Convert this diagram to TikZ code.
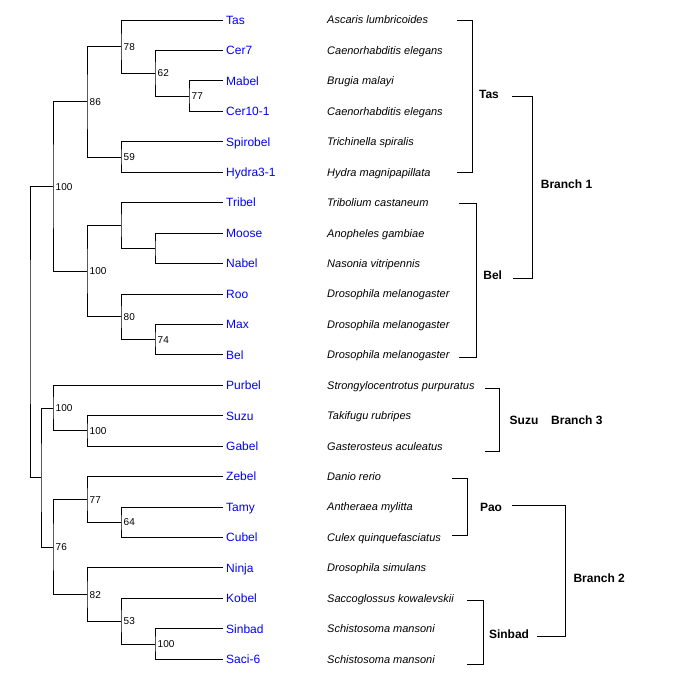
\documentclass[tikz,border=0pt]{standalone}
\usepackage{fontspec}
\setmainfont{Liberation Sans}
\begin{document}
\begin{tikzpicture}[
        x=1pt, y=-1pt,
        edge/.style={draw, line width=1pt},
        leaf/.style={anchor=west, inner xsep=3pt, inner ysep=0pt, text=blue,
            font=\fontsize{12}{14}\selectfont, text height=8.6pt, text depth=0pt},
        species/.style={anchor=west, inner sep=0pt,
            font=\fontsize{11}{13}\selectfont\itshape, text height=7.9pt, text depth=0pt},
        boot/.style={anchor=west, inner xsep=2.5pt, inner ysep=0pt,
            font=\fontsize{10}{12}\selectfont, text height=7.2pt, text depth=0pt},
        group/.style={inner sep=0pt, font=\fontsize{12}{14}\selectfont\bfseries,
            text height=8.6pt, text depth=0pt}
    ]
        \useasboundingbox (0,0) rectangle (678,688);

        % Leaves
        \node[leaf] (tas) at (223,20) {Tas};
        \node[leaf] (cer7) at (223,50.4) {Cer7};
        \node[leaf] (mabel) at (223,80.9) {Mabel};
        \node[leaf] (cer10) at (223,111.3) {Cer10-1};
        \node[leaf] (spirobel) at (223,141.8) {Spirobel};
        \node[leaf] (hydra) at (223,172.2) {Hydra3-1};
        \node[leaf] (tribel) at (223,202.6) {Tribel};
        \node[leaf] (moose) at (223,233.1) {Moose};
        \node[leaf] (nabel) at (223,263.5) {Nabel};
        \node[leaf] (roo) at (223,294) {Roo};
        \node[leaf] (max) at (223,324.4) {Max};
        \node[leaf] (bel) at (223,354.8) {Bel};
        \node[leaf] (purbel) at (223,385.3) {Purbel};
        \node[leaf] (suzu) at (223,415.7) {Suzu};
        \node[leaf] (gabel) at (223,446.2) {Gabel};
        \node[leaf] (zebel) at (223,476.6) {Zebel};
        \node[leaf] (tamy) at (223,507) {Tamy};
        \node[leaf] (cubel) at (223,537.5) {Cubel};
        \node[leaf] (ninja) at (223,567.9) {Ninja};
        \node[leaf] (kobel) at (223,598.4) {Kobel};
        \node[leaf] (sinbad) at (223,628.8) {Sinbad};
        \node[leaf] (saci) at (223,659.2) {Saci-6};

        % Species names
        \node[species] (sptas) at (327,20) {Ascaris lumbricoides};
        \node[species] (spcer7) at (327,50.4) {Caenorhabditis elegans};
        \node[species] (spmabel) at (327,80.9) {Brugia malayi};
        \node[species] (spcer10) at (327,111.3) {Caenorhabditis elegans};
        \node[species] (spspirobel) at (327,141.8) {Trichinella spiralis};
        \node[species] (sphydra) at (327,172.2) {Hydra magnipapillata};
        \node[species] (sptribel) at (327,202.6) {Tribolium castaneum};
        \node[species] (spmoose) at (327,233.1) {Anopheles gambiae};
        \node[species] (spnabel) at (327,263.5) {Nasonia vitripennis};
        \node[species] (sproo) at (327,294) {Drosophila melanogaster};
        \node[species] (spmax) at (327,324.4) {Drosophila melanogaster};
        \node[species] (spbel) at (327,354.8) {Drosophila melanogaster};
        \node[species] (sppurbel) at (327,385.3) {Strongylocentrotus purpuratus};
        \node[species] (spsuzu) at (327,415.7) {Takifugu rubripes};
        \node[species] (spgabel) at (327,446.2) {Gasterosteus aculeatus};
        \node[species] (spzebel) at (327,476.6) {Danio rerio};
        \node[species] (sptamy) at (327,507) {Antheraea mylitta};
        \node[species] (spcubel) at (327,537.5) {Culex quinquefasciatus};
        \node[species] (spninja) at (327,567.9) {Drosophila simulans};
        \node[species] (spkobel) at (327,598.4) {Saccoglossus kowalevskii};
        \node[species] (spsinbad) at (327,628.8) {Schistosoma mansoni};
        \node[species] (spsaci) at (327,659.2) {Schistosoma mansoni};

        % Internal nodes of the tree
        \coordinate (n77a) at (189,96.1);
        \coordinate (n62) at (155,73.25);
        \coordinate (n78) at (121,46.6);
        \coordinate (n59) at (121,157);
        \coordinate (n86) at (87,101.8);
        \coordinate (nmn) at (155,248.3);
        \coordinate (ntr) at (121,225.45);
        \coordinate (n74) at (155,339.6);
        \coordinate (n80) at (121,316.8);
        \coordinate (n100b) at (87,271.1);
        \coordinate (n100a) at (53,186.45);
        \coordinate (n100d) at (87,430.95);
        \coordinate (n100c) at (53,408.1);
        \coordinate (n64) at (121,522.25);
        \coordinate (n77b) at (87,499.4);
        \coordinate (n100e) at (155,644);
        \coordinate (n53) at (121,621.2);
        \coordinate (n82) at (87,594.55);
        \coordinate (n76) at (53,547);
        \coordinate (nb) at (41,477.55);
        \coordinate (root) at (30,332);

        % Branches
        \draw[edge] (mabel.west) -| (n77a) |- (cer10.west);
        \draw[edge] (cer7.west) -| (n62) |- (n77a);
        \draw[edge] (tas.west) -| (n78) |- (n62);
        \draw[edge] (spirobel.west) -| (n59) |- (hydra.west);
        \draw[edge] (n78) -| (n86) |- (n59);
        \draw[edge] (moose.west) -| (nmn) |- (nabel.west);
        \draw[edge] (tribel.west) -| (ntr) |- (nmn);
        \draw[edge] (max.west) -| (n74) |- (bel.west);
        \draw[edge] (roo.west) -| (n80) |- (n74);
        \draw[edge] (ntr) -| (n100b) |- (n80);
        \draw[edge] (n86) -| (n100a) |- (n100b);
        \draw[edge] (suzu.west) -| (n100d) |- (gabel.west);
        \draw[edge] (purbel.west) -| (n100c) |- (n100d);
        \draw[edge] (tamy.west) -| (n64) |- (cubel.west);
        \draw[edge] (zebel.west) -| (n77b) |- (n64);
        \draw[edge] (sinbad.west) -| (n100e) |- (saci.west);
        \draw[edge] (kobel.west) -| (n53) |- (n100e);
        \draw[edge] (ninja.west) -| (n82) |- (n53);
        \draw[edge] (n77b) -| (n76) |- (n82);
        \draw[edge] (n100c) -| (nb) |- (n76);
        \draw[edge] (n100a) -| (root) |- (nb);

        % Bootstrap values
        \node[boot] (b78) at (n78) {78};
        \node[boot] (b62) at (n62) {62};
        \node[boot] (b77a) at (n77a) {77};
        \node[boot] (b59) at (n59) {59};
        \node[boot] (b86) at (n86) {86};
        \node[boot] (b74) at (n74) {74};
        \node[boot] (b80) at (n80) {80};
        \node[boot] (b100b) at (n100b) {100};
        \node[boot] (b100a) at (n100a) {100};
        \node[boot] (b100d) at (n100d) {100};
        \node[boot] (b100c) at (n100c) {100};
        \node[boot] (b64) at (n64) {64};
        \node[boot] (b77b) at (n77b) {77};
        \node[boot] (b100e) at (n100e) {100};
        \node[boot] (b53) at (n53) {53};
        \node[boot] (b82) at (n82) {82};
        \node[boot] (b76) at (n76) {76};

        % Group brackets
        \draw[edge] (457,20) -| (472,172) -- (457,172);
        \draw[edge] (459,203.7) -| (476,357.3) -- (459,357.3);
        \draw[edge] (485,388) -| (499.3,451) -- (485,451);
        \draw[edge] (452,478.3) -| (467,535.7) -- (452,535.7);
        \draw[edge] (467.3,600.7) -| (483.3,664) -- (467.3,664);

        % Group and branch labels
        \node[group] (gtas) at (489,94.5) {Tas};
        \node[group] (gbel) at (492.7,275) {Bel};
        \node[group] (gsuzu) at (524,420) {Suzu};
        \node[group] (gpao) at (491,507.5) {Pao};
        \node[group] (gsinbad) at (509,633.8) {Sinbad};
        \node[group, anchor=west] (br1) at (540.7,184) {Branch 1};
        \node[group, anchor=west] (br3) at (551,420) {Branch 3};
        \node[group, anchor=west] (br2) at (573.3,578) {Branch 2};

        % Branch brackets
        \coordinate (tasend) at (512,96);
        \coordinate (belend) at (512.7,278.3);
        \coordinate (br1j) at (532.7,187);
        \coordinate (paoend) at (512,505.3);
        \coordinate (sinbadend) at (537,636);
        \coordinate (br2j) at (565.3,570);
        \draw[edge] (tasend) -| (br1j) |- (belend);
        \draw[edge] (paoend) -| (br2j) |- (sinbadend);
    \end{tikzpicture}
\end{document}
